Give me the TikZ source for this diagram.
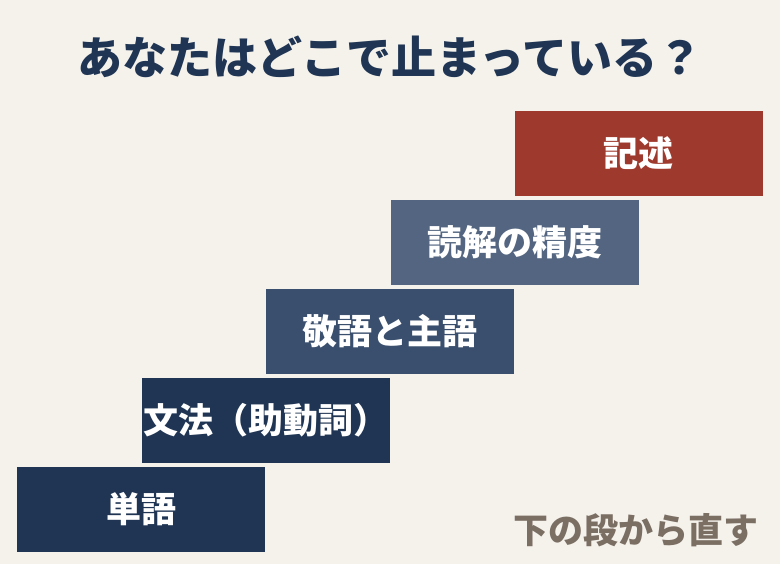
\documentclass[tikz,border=0pt]{standalone}
\usepackage{fontspec}
\newfontfamily\jp{Noto Sans CJK JP}
\definecolor{bg}{HTML}{F5F2EC}
\definecolor{navy}{HTML}{1F3553}
\definecolor{navymid}{HTML}{3A4F6D}
\definecolor{slate}{HTML}{536580}
\definecolor{brick}{HTML}{9E3A2D}
\definecolor{note}{HTML}{7B6F64}
\tikzset{
  stepbox/.style={rectangle, minimum width=248pt, minimum height=85pt, inner sep=0pt,
    text=white, font=\jp\bfseries\fontsize{35pt}{40pt}\selectfont},
}
\begin{document}
\begin{tikzpicture}[x=1pt,y=-1pt]
\fill[bg] (0,0) rectangle (780,564);
\useasboundingbox (0,0) rectangle (780,564);
\node[text=navy, font=\jp\bfseries\fontsize{45pt}{50pt}\selectfont] (title) at (390,57) {あなたはどこで止まっている？};
\node[stepbox, fill=navy] (s1) at (141,509) {単語};
\node[stepbox, fill=navy] (s2) at (266,420.5) {文法（助動詞）};
\node[stepbox, fill=navymid] (s3) at (390,331.5) {敬語と主語};
\node[stepbox, fill=slate] (s4) at (514.5,242.5) {読解の精度};
\node[stepbox, fill=brick] (s5) at (638.5,153.5) {記述};
\node[text=note, font=\jp\bfseries\fontsize{35pt}{40pt}\selectfont] (note) at (636,530) {下の段から直す};
\end{tikzpicture}
\end{document}
